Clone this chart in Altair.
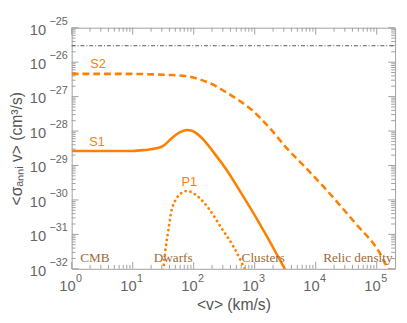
import altair as alt
import pandas as pd

# ---------------- data ----------------
# S1 (solid)
s1_v = [1, 10, 13.2, 17.8, 24.5, 31.6, 37, 42.7, 50, 59, 68, 78, 93, 110, 123, 158, 200, 331, 692, 1445, 3160]
s1_sigma = [2.63e-29, 2.63e-29, 2.75e-29, 2.88e-29, 3.16e-29, 3.7e-29, 4.7e-29, 6.0e-29, 7.6e-29,
            9.1e-29, 1.02e-28, 1.07e-28, 1.02e-28, 8.7e-29, 7.4e-29, 4.7e-29, 2.75e-29, 8.3e-30,
            1.05e-30, 1.17e-31, 9.5e-33]

# S2 (dashed)
s2_v = [1, 10, 18, 40, 85, 126, 200, 290, 417, 870, 1820, 3020, 6310, 13200, 44700, 107000, 155000, 178000]
s2_sigma = [4.57e-27, 4.57e-27, 4.47e-27, 4.27e-27, 3.8e-27, 3.16e-27, 2.29e-27, 1.58e-27, 1.07e-27,
            4.27e-28, 1.15e-28, 3.9e-29, 1.0e-29, 2.5e-30, 2.1e-31, 3.3e-32, 1.0e-32, 7.6e-33]

# P1 (dotted)
p1_v = [28.2, 31.6, 34.7, 38.0, 42.7, 51.3, 61.7, 77.6, 115, 178, 288, 447, 692]
p1_sigma = [2.5e-33, 8.9e-33, 4.0e-32, 1.17e-31, 4.4e-31, 1.05e-30, 1.55e-30, 1.82e-30, 1.29e-30,
            5.5e-31, 1.48e-31, 4.5e-32, 9.5e-33]

# thermal relic reference line (dot-dashed)
relic_v = [1, 200000]
relic_sigma = [3e-26, 3e-26]

# curve labels
curve_labels = ["S2", "S1", "P1"]
curve_label_v = [2.7, 2.6, 85]
curve_label_sigma = [8.9e-27, 4.8e-29, 3.2e-30]

# region labels
region_labels = ["CMB", "Dwarfs", "Clusters", "Relic density"]
region_label_v = [2.4, 46, 1380, 49000]
region_label_sigma = [2.1e-32] * 4

# ticks
x_major = [1, 10, 100, 1000, 10000, 100000]
x_exponents = ["0", "1", "2", "3", "4", "5"]
y_major = [1e-25, 1e-26, 1e-27, 1e-28, 1e-29, 1e-30, 1e-31, 1e-32]
y_exponents = ["\u221225", "\u221226", "\u221227", "\u221228", "\u221229", "\u221230", "\u221231", "\u221232"]
x_minor = [m * 10 ** k for k in range(0, 5) for m in range(2, 10)]
y_minor = [float(f"{m}e{k}") for k in range(-32, -25) for m in range(2, 10)]

# ---------------- styling ----------------
W, H = 330, 246
ORANGE = "#ff8000"
BROWN = "#9c6b3a"
TICK = "#a0a0a0"
LABEL = "#666666"
SANS = "Liberation Sans"
SERIF = "Liberation Serif"

XS = alt.Scale(type="log", domain=[1, 200000], nice=False)
YS = alt.Scale(type="log", domain=[1e-32, 1e-25], nice=False)

x_axis = alt.Axis(title="<v> (km/s)", labels=False, ticks=False, domain=False, grid=False,
                  titleFont=SANS, titleFontSize=16, titleFontWeight="normal",
                  titleColor="#555555", titlePadding=29)
y_axis = alt.Axis(title="<\u03c3\u2090\u2099\u2099\u1d62 v> (cm\u00b3/s)", labels=False, ticks=False,
                  domain=False, grid=False, titleFont=SANS, titleFontSize=16,
                  titleFontWeight="normal", titleColor="#555555", titlePadding=48)


def X(f):
    return alt.X(f"{f}:Q", scale=XS, axis=x_axis)


def Y(f):
    return alt.Y(f"{f}:Q", scale=YS, axis=y_axis)


s1 = pd.DataFrame({"v": s1_v, "s": s1_sigma})
s2 = pd.DataFrame({"v": s2_v, "s": s2_sigma})
p1 = pd.DataFrame({"v": p1_v, "s": p1_sigma})
relic = pd.DataFrame({"v": relic_v, "s": relic_sigma})
clab = pd.DataFrame({"v": curve_label_v, "s": curve_label_sigma, "t": curve_labels})
rlab = pd.DataFrame({"v": region_label_v, "s": region_label_sigma, "t": region_labels})
xmaj = pd.DataFrame({"v": x_major, "e": x_exponents, "b": ["10"] * len(x_major)})
xmin = pd.DataFrame({"v": x_minor})
ymaj = pd.DataFrame({"s": y_major, "e": y_exponents, "b": ["10"] * len(y_major)})
ymin = pd.DataFrame({"s": y_minor})

layers = []

# ticks (inward, all four sides)
for df, ln in [(xmaj, 7), (xmin, 4)]:
    layers.append(alt.Chart(df).mark_rule(color=TICK, strokeWidth=1).encode(
        x=X("v"), y=alt.value(H - ln), y2=alt.value(H)))
    layers.append(alt.Chart(df).mark_rule(color=TICK, strokeWidth=1).encode(
        x=X("v"), y=alt.value(0), y2=alt.value(ln)))
for df, ln in [(ymaj, 7), (ymin, 4)]:
    layers.append(alt.Chart(df).mark_rule(color=TICK, strokeWidth=1).encode(
        y=Y("s"), x=alt.value(0), x2=alt.value(ln)))
    layers.append(alt.Chart(df).mark_rule(color=TICK, strokeWidth=1).encode(
        y=Y("s"), x=alt.value(W - ln), x2=alt.value(W)))

# tick labels
layers.append(alt.Chart(xmaj).mark_text(font=SANS, fontSize=15, color=LABEL, align="right",
                                        baseline="middle", dx=4).encode(
    x=X("v"), y=alt.value(H + 18), text="b:N"))
layers.append(alt.Chart(xmaj).mark_text(font=SANS, fontSize=11, color=LABEL, align="left",
                                        baseline="middle", dx=4.5).encode(
    x=X("v"), y=alt.value(H + 10), text="e:N"))
layers.append(alt.Chart(ymaj).mark_text(font=SANS, fontSize=15, color=LABEL, align="right",
                                        baseline="middle", dy=2).encode(
    y=Y("s"), x=alt.value(-26), text="b:N"))
layers.append(alt.Chart(ymaj).mark_text(font=SANS, fontSize=11, color=LABEL, align="right",
                                        baseline="middle", dy=-6).encode(
    y=Y("s"), x=alt.value(-4), text="e:N"))

# curves
layers.append(alt.Chart(relic).mark_line(color="#555555", strokeWidth=1,
                                         strokeDash=[4, 2, 1, 2]).encode(x=X("v"), y=Y("s")))
layers.append(alt.Chart(s2).mark_line(color=ORANGE, strokeWidth=2.6, strokeDash=[7, 4],
                                      clip=True, interpolate="monotone").encode(x=X("v"), y=Y("s")))
layers.append(alt.Chart(s1).mark_line(color=ORANGE, strokeWidth=2.6, clip=True,
                                      interpolate="monotone").encode(x=X("v"), y=Y("s")))
layers.append(alt.Chart(p1).mark_line(color=ORANGE, strokeWidth=2.8, strokeDash=[0.1, 5],
                                      strokeCap="round", clip=True,
                                      interpolate="monotone").encode(x=X("v"), y=Y("s")))

# text labels
layers.append(alt.Chart(clab).mark_text(font=SANS, fontSize=13, color=ORANGE).encode(
    x=X("v"), y=Y("s"), text="t:N"))
layers.append(alt.Chart(rlab).mark_text(font=SERIF, fontSize=13.5, color=BROWN).encode(
    x=X("v"), y=Y("s"), text="t:N"))

chart = alt.layer(*layers).properties(
    width=W, height=H,
    autosize=alt.AutoSizeParams(type="none"),
    padding={"left": 65, "top": 17, "right": 4, "bottom": 44},
).configure_view(stroke=TICK, strokeWidth=1)

chart.save("out.html", embed_options={"renderer": "svg", "actions": False})
